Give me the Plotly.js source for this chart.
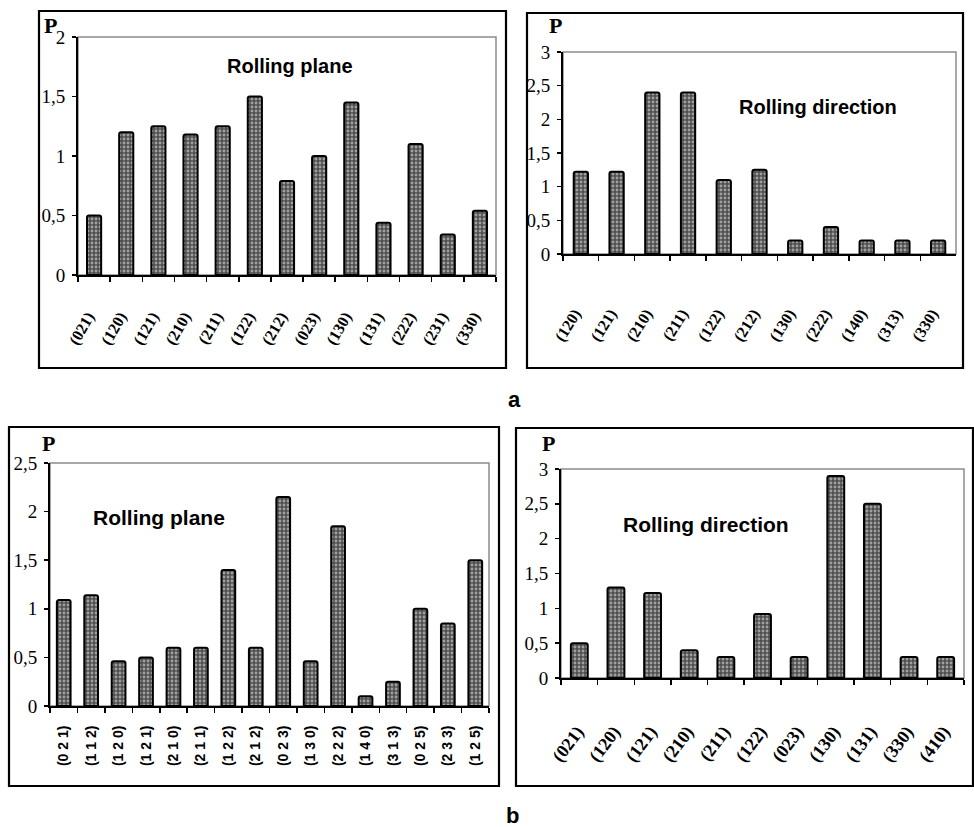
<!DOCTYPE html>
<html>
<head>
<meta charset="utf-8">
<script src="https://cdn.plot.ly/plotly-3.0.1.min.js"></script>
<style>html,body{margin:0;padding:0;background:#fff;}#chart{width:974px;height:827px;}</style>
</head>
<body>
<div id="chart"></div>
<script>
// ---- Data ----
const aPlaneLabels = ["(021)","(120)","(121)","(210)","(211)","(122)","(212)","(023)","(130)","(131)","(222)","(231)","(330)"];
const aPlaneValues = [0.5, 1.2, 1.25, 1.18, 1.25, 1.5, 0.79, 1.0, 1.45, 0.44, 1.1, 0.34, 0.54];

const aDirLabels = ["(120)","(121)","(210)","(211)","(122)","(212)","(130)","(222)","(140)","(313)","(330)"];
const aDirValues = [1.22, 1.22, 2.4, 2.4, 1.1, 1.25, 0.2, 0.4, 0.2, 0.2, 0.2];

const bPlaneLabels = ["(0 2 1)","(1 1 2)","(1 2 0)","(1 2 1)","(2 1 0)","(2 1 1)","(1 2 2)","(2 1 2)","(0 2 3)","(1 3 0)","(2 2 2)","(1 4 0)","(3 1 3)","(0 2 5)","(2 3 3)","(1 2 5)"];
const bPlaneValues = [1.09, 1.14, 0.46, 0.5, 0.6, 0.6, 1.4, 0.6, 2.15, 0.46, 1.85, 0.1, 0.25, 1.0, 0.85, 1.5];

const bDirLabels = ["(021)","(120)","(121)","(210)","(211)","(122)","(023)","(130)","(131)","(330)","(410)"];
const bDirValues = [0.5, 1.3, 1.22, 0.4, 0.3, 0.92, 0.3, 2.9, 2.5, 0.3, 0.3];

// ---- Layout helpers ----
const W = 974, H = 827;
const px = x => x / W;
const py = y => 1 - y / H;

const serif = "Liberation Serif, Times New Roman, serif";
const sans = "Liberation Sans, Arial, sans-serif";

function bar(x, y, xa, ya, w) {
  return {
    type: "bar", x: x, y: y, xaxis: xa, yaxis: ya, width: w,
    hoverinfo: "x+y",
    marker: {
      color: "#5e5e5e",
      cornerradius: 2,
      line: {color: "#000000", width: 2},
      pattern: {shape: ".", bgcolor: "#4e4e4e", fgcolor: "#a0a0a0", size: 4, solidity: 0.4}
    }
  };
}

const data = [
  bar(aPlaneLabels, aPlaneValues, "x", "y", 0.44),
  bar(aDirLabels, aDirValues, "x2", "y2", 0.40),
  bar(bPlaneLabels, bPlaneValues, "x3", "y3", 0.50),
  bar(bDirLabels, bDirValues, "x4", "y4", 0.46)
];

function xaxis(dom, anchor, angle, font, standoff, shift) {
  return {
    domain: dom, anchor: anchor, type: "category",
    showgrid: false, zeroline: false,
    showline: true, linecolor: "#000", linewidth: 2,
    ticks: "outside", tickson: "boundaries", ticklen: 5, tickwidth: 1.5, tickcolor: "#000",
    tickangle: angle, tickfont: font,
    ticklabelstandoff: standoff, ticklabelshift: shift,
    fixedrange: true
  };
}
function yaxis(dom, anchor, maxv) {
  return {
    domain: dom, anchor: anchor, range: [0, maxv],
    tick0: 0, dtick: 0.5,
    showgrid: false, zeroline: false,
    showline: true, linecolor: "#000", linewidth: 2,
    ticks: "outside", ticklen: 4, tickwidth: 1.5, tickcolor: "#000",
    tickfont: {family: serif, size: 19, color: "#000"},
    ticklabelstandoff: 3,
    fixedrange: true
  };
}

const serifTick = {family: serif, size: 16, color: "#000", weight: "bold"};
const serifTickB = {family: serif, size: 18, color: "#000", weight: "bold"};
const sansTick = {family: sans, size: 14, color: "#000", weight: "bold"};

function frame(xa, ya) {
  return {type: "rect", xref: xa + " domain", yref: ya + " domain", x0: 0, x1: 1, y0: 0, y1: 1,
          line: {color: "#8c8c8c", width: 1.5}, layer: "below"};
}
function box(x0, y0, x1, y1) {
  return {type: "rect", xref: "paper", yref: "paper", x0: px(x0), x1: px(x1), y0: py(y1), y1: py(y0),
          line: {color: "#000", width: 2.2}};
}
function note(text, x, y, font) {
  return {xref: "paper", yref: "paper", x: px(x), y: py(y), text: text, showarrow: false,
          xanchor: "center", yanchor: "middle", font: font};
}
const pFont = {family: serif, size: 22, color: "#000", weight: "bold"};
const titleFont = {family: sans, size: 20, color: "#000", weight: "bold"};

const layout = {
  width: W, height: H,
  margin: {l: 0, r: 0, t: 0, b: 0},
  paper_bgcolor: "#fff", plot_bgcolor: "#fff",
  showlegend: false,
  separators: ",.",
  xaxis: xaxis([px(78), px(496)], "y", -60, serifTick, 24, -6),
  yaxis: yaxis([py(275), py(37)], "x", 2),
  xaxis2: xaxis([px(563), px(956)], "y2", -58, serifTick, 42, -6),
  yaxis2: yaxis([py(254), py(52)], "x2", 3),
  xaxis3: xaxis([px(50), px(489)], "y3", -90, sansTick, 12, 0),
  yaxis3: yaxis([py(706), py(463)], "x3", 2.5),
  xaxis4: xaxis([px(561), px(964)], "y4", -53, serifTickB, 34, -2),
  yaxis4: yaxis([py(678), py(469)], "x4", 3),
  shapes: [
    frame("x", "y"), frame("x2", "y2"), frame("x3", "y3"), frame("x4", "y4"),
    box(39, 11, 506, 368), box(527, 13, 963, 368),
    box(9, 427, 499, 786), box(516, 428, 973, 786)
  ],
  annotations: [
    note("Rolling plane", 290, 66, titleFont),
    note("Rolling direction", 818, 107, titleFont),
    note("Rolling plane", 159, 517, {family: sans, size: 21, color: "#000", weight: "bold"}),
    note("Rolling direction", 706, 524, {family: sans, size: 21, color: "#000", weight: "bold"}),
    note("P", 50, 25, pFont),
    note("P", 555, 25, pFont),
    note("P", 48, 443, pFont),
    note("P", 548, 443, pFont),
    note("a", 514, 399, {family: sans, size: 22, color: "#000", weight: "bold"}),
    note("b", 512, 815, {family: sans, size: 22, color: "#000", weight: "bold"})
  ]
};

Plotly.newPlot("chart", data, layout, {displayModeBar: false, staticPlot: true});
</script>
</body>
</html>
